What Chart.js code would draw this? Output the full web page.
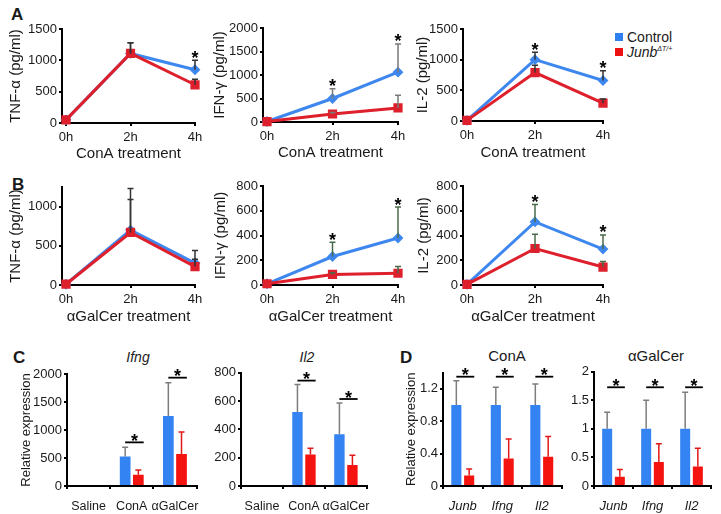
<!DOCTYPE html>
<html>
<head>
<meta charset="utf-8">
<script src="https://cdn.jsdelivr.net/npm/chart.js@4.4.1/dist/chart.umd.min.js"></script>
<style>
  body { margin: 0; background: #fff; }
  #fig { position: relative; width: 721px; height: 514px; overflow: hidden;
         font-family: 'Liberation Sans', Arial, sans-serif; color: #1a1a1a; }
  #fig canvas { position: absolute; }
  .panel { position: absolute; font-weight: bold; font-size: 17px; line-height: 1; }
  .ttl { position: absolute; line-height: 1; white-space: nowrap; transform: translateX(-50%); }
  .sw { position: absolute; width: 8px; height: 8px; }
  .leg { position: absolute; font-size: 14px; line-height: 1; white-space: nowrap; }
  .leg sup { font-size: 7px; font-style: italic; vertical-align: 6px; }
</style>
</head>
<body>
<div id="fig">
  <div class="panel" style="left:11px;top:6px">A</div>
  <div class="panel" style="left:12px;top:176px">B</div>
  <div class="panel" style="left:13px;top:349px">C</div>
  <div class="panel" style="left:400px;top:349px">D</div>

  <div class="ttl" style="left:138px;top:350px;font-size:14px;font-style:italic">Ifng</div>
  <div class="ttl" style="left:307px;top:350px;font-size:14px;font-style:italic">Il2</div>
  <div class="ttl" style="left:507px;top:348px;font-size:15px">ConA</div>
  <div class="ttl" style="left:656px;top:348px;font-size:15px">αGalCer</div>

  <div class="sw" style="left:615px;top:33px;background:#2f7ff0"></div>
  <div class="leg" style="left:627px;top:30px">Control</div>
  <div class="sw" style="left:615px;top:48px;background:#ee1111"></div>
  <div class="leg" style="left:627px;top:45px"><i>Junb</i><sup>ΔT/+</sup></div>
</div>
<script>
// time points (h)
const hours = [0, 2, 4];

// A: ConA treatment
const tnfConaCtrl = [50, 1110, 850];
const tnfConaCtrlErr = [0, 170, 150];
const tnfConaJunb = [50, 1110, 610];
const tnfConaJunbErr = [0, 170, 90];
const tnfConaStars = [false, false, true];
const tnfConaTicks = [0, 500, 1000, 1500];

const ifnConaCtrl = [10, 500, 1060];
const ifnConaCtrlErr = [0, 210, 600];
const ifnConaJunb = [10, 170, 300];
const ifnConaJunbErr = [0, 30, 270];
const ifnConaStars = [false, true, true];
const ifnConaTicks = [0, 500, 1000, 1500, 2000];

const il2ConaCtrl = [10, 1000, 660];
const il2ConaCtrlErr = [0, 120, 160];
const il2ConaJunb = [10, 790, 290];
const il2ConaJunbErr = [0, 120, 70];
const il2ConaStars = [false, true, true];
const il2ConaTicks = [0, 500, 1000, 1500];

// B: aGalCer treatment
const tnfGalCtrl = [10, 700, 280];
const tnfGalCtrlErr = [0, 530, 160];
const tnfGalJunb = [10, 670, 235];
const tnfGalJunbErr = [0, 420, 95];
const tnfGalStars = [false, false, false];
const tnfGalTicks = [0, 500, 1000];

const ifnGalCtrl = [10, 230, 380];
const ifnGalCtrlErr = [0, 115, 250];
const ifnGalJunb = [10, 85, 95];
const ifnGalJunbErr = [0, 15, 55];
const ifnGalStars = [false, true, true];
const ifnGalTicks = [0, 200, 400, 600, 800];

const il2GalCtrl = [5, 510, 290];
const il2GalCtrlErr = [0, 140, 115];
const il2GalJunb = [5, 295, 145];
const il2GalJunbErr = [0, 115, 45];
const il2GalStars = [false, true, true];
const il2GalTicks = [0, 200, 400, 600, 800];

// C: relative expression by treatment
const treatments = ['Saline', 'ConA', 'αGalCer'];
const ifngCtrl = [0, 525, 1250];
const ifngCtrlErr = [0, 165, 595];
const ifngJunb = [0, 200, 572];
const ifngJunbErr = [0, 85, 393];
const ifngSig = [false, true, true];
const ifngTicks = [0, 500, 1000, 1500, 2000];

const il2Ctrl = [0, 523, 366];
const il2CtrlErr = [0, 193, 220];
const il2Junb = [0, 222, 148];
const il2JunbErr = [0, 44, 70];
const il2Sig = [false, true, true];
const il2Ticks = [0, 200, 400, 600, 800];

// D: relative expression by gene
const genes = ['Junb', 'Ifng', 'Il2'];
const conaCtrl = [1.0, 1.0, 1.0];
const conaCtrlErr = [0.30, 0.22, 0.26];
const conaJunb = [0.13, 0.34, 0.36];
const conaJunbErr = [0.08, 0.24, 0.25];
const conaSig = [true, true, true];
const conaTicks = [0, 0.4, 0.8, 1.2];

const galCtrl = [1.0, 1.0, 1.0];
const galCtrlErr = [0.29, 0.50, 0.64];
const galJunb = [0.16, 0.42, 0.34];
const galJunbErr = [0.13, 0.32, 0.32];
const galSig = [true, true, true];
const galTicks = [0, 0.5, 1, 1.5, 2];

const lineBlue = '#3d87ee', lineRed = '#de1f2c';
const barBlue = '#3483f2', barRed = '#f5130f';
const FONT = "'Liberation Sans', Arial, sans-serif";

Chart.defaults.font.family = FONT;
Chart.defaults.color = '#1a1a1a';

// draws upward error bars from each point / bar top
const errorBars = {
    id: 'errorBars',
    afterDatasetsDraw(chart) {
        const ctx = chart.ctx, ys = chart.scales.y;
        chart.data.datasets.forEach((ds, i) => {
            if (!ds.errors) return;
            const meta = chart.getDatasetMeta(i);
            meta.data.forEach((el, j) => {
                const e = ds.errors[j];
                if (!e) return;
                const v = meta.controller.getParsed(j).y;
                const yTop = ys.getPixelForValue(v + e);
                ctx.save();
                ctx.strokeStyle = ds.errColor;
                ctx.lineWidth = 1.5;
                ctx.beginPath();
                ctx.moveTo(el.x, el.y);
                ctx.lineTo(el.x, yTop);
                ctx.moveTo(el.x - 3, yTop);
                ctx.lineTo(el.x + 3, yTop);
                ctx.stroke();
                ctx.restore();
            });
        });
    }
};

function star(ctx, x, cy) {
    ctx.fillText('*', x, cy + 10.5);
}

// asterisks (and bars for the bar charts)
const sigMarks = {
    id: 'sigMarks',
    afterDatasetsDraw(chart, args, o) {
        if (!o.sig) return;
        const ctx = chart.ctx, ys = chart.scales.y;
        const tops = o.sig.map((s, j) => Math.min(...chart.data.datasets.map((ds, i) => {
            const v = chart.getDatasetMeta(i).controller.getParsed(j).y;
            return ys.getPixelForValue(v + (ds.errors[j] || 0));
        })));
        const common = Math.min(...tops.filter((t, j) => o.sig[j]));
        ctx.save();
        ctx.fillStyle = '#000';
        ctx.strokeStyle = '#000';
        ctx.lineWidth = 1.8;
        ctx.font = 'bold 18px ' + FONT;
        ctx.textAlign = 'center';
        o.sig.forEach((s, j) => {
            if (!s) return;
            const a = chart.getDatasetMeta(0).data[j];
            const r = chart.getDatasetMeta(1).data[j];
            const base = (o.uniform ? common : tops[j]) - o.gap;
            if (o.bar) {
                const x1 = a.x, x2 = r.x + r.width / 2;
                ctx.beginPath();
                ctx.moveTo(x1, base);
                ctx.lineTo(x2, base);
                ctx.stroke();
                star(ctx, (x1 + x2) / 2, base - 6);
            } else {
                star(ctx, a.x, base);
            }
        });
        ctx.restore();
    }
};

Chart.register(errorBars, sigMarks);

const fig = document.getElementById('fig');

// place a canvas so that the plot area lands on the given box
function frame(b) {
    const left = Math.round(b.titleX != null ? b.titleX - b.titleOff : b.ax - b.yW);
    const top = Math.round(b.top - (b.padTop || 26));
    const width = Math.round(b.right - left + (b.padRight || 12));
    const height = Math.round(b.bot - top + b.xH);
    const c = document.createElement('canvas');
    c.width = width;
    c.height = height;
    c.style.left = left + 'px';
    c.style.top = top + 'px';
    fig.appendChild(c);
    return {
        ctx: c.getContext('2d'),
        yW: b.ax - left,
        padTop: b.top - top,
        padRight: width - (b.right - left),
        xH: height - (b.bot - top)
    };
}

function axisBase() {
    return {
        grid: { drawOnChartArea: false, tickLength: 3, color: '#000', lineWidth: 2 },
        border: { color: '#000', width: 2 }
    };
}

function lineChart(b, d) {
    const f = frame(b);
    const xmin = -4 * 4 / (b.right - b.ax - 4);
    const pts = arr => hours.map((h, i) => ({ x: h, y: arr[i] }));
    new Chart(f.ctx, {
        type: 'line',
        data: {
            datasets: [{
                data: pts(d.ctrl), errors: d.ctrlErr, errColor: b.errColor,
                borderColor: lineBlue, backgroundColor: lineBlue,
                pointStyle: 'rectRot', pointRadius: 3.3, borderWidth: 3,
                order: 1, clip: false, tension: 0
            }, {
                data: pts(d.junb), errors: d.junbErr, errColor: b.errColor,
                borderColor: lineRed, backgroundColor: lineRed,
                pointStyle: 'rect', pointRadius: 4.4, borderWidth: 3,
                order: 0, clip: false, tension: 0
            }]
        },
        options: {
            responsive: false, animation: false, events: [],
            layout: { padding: { top: f.padTop, right: f.padRight, left: 0, bottom: 0 } },
            plugins: {
                legend: { display: false }, tooltip: { enabled: false },
                sigMarks: { sig: d.stars, gap: 7 }
            },
            scales: {
                x: Object.assign(axisBase(), {
                    type: 'linear', min: xmin, max: 4,
                    afterBuildTicks: s => { s.ticks = hours.map(v => ({ value: v })); },
                    afterFit: s => { s.height = f.xH; },
                    ticks: { callback: v => v + 'h', padding: 4, font: { size: 13 }, maxRotation: 0, autoSkip: false },
                    title: { display: true, text: b.xTitle, font: { size: 15 }, padding: { top: 0, bottom: 4 } }
                }),
                y: Object.assign(axisBase(), {
                    min: 0, max: b.yMax,
                    afterBuildTicks: s => { s.ticks = d.ticks.map(v => ({ value: v })); },
                    afterFit: s => { s.width = f.yW; },
                    ticks: { callback: v => String(v), padding: 2, font: { size: 13 } },
                    title: { display: true, text: b.yTitle, font: { size: 15 }, padding: { top: 4, bottom: 0 } }
                })
            }
        }
    });
}

function barChart(b, d) {
    const f = frame(b);
    new Chart(f.ctx, {
        type: 'bar',
        data: {
            labels: d.cats,
            datasets: [{
                data: d.ctrl, errors: d.ctrlErr, errColor: '#7d7d7d',
                backgroundColor: barBlue, categoryPercentage: b.cat, barPercentage: b.bar
            }, {
                data: d.junb, errors: d.junbErr, errColor: '#e01818',
                backgroundColor: barRed, categoryPercentage: b.cat, barPercentage: b.bar
            }]
        },
        options: {
            responsive: false, animation: false, events: [],
            layout: { padding: { top: f.padTop, right: f.padRight, left: 0, bottom: 0 } },
            plugins: {
                legend: { display: false }, tooltip: { enabled: false },
                sigMarks: { sig: d.sig, gap: b.gap, bar: true, uniform: b.uniform }
            },
            scales: {
                x: Object.assign(axisBase(), {
                    afterFit: s => { s.height = f.xH; },
                    ticks: { padding: 10, font: { size: b.italic ? 13 : 12.5, style: b.italic ? 'italic' : 'normal' }, maxRotation: 0, autoSkip: false }
                }),
                y: Object.assign(axisBase(), {
                    min: 0, max: b.yMax,
                    afterBuildTicks: s => { s.ticks = d.ticks.map(v => ({ value: v })); },
                    afterFit: s => { s.width = f.yW; },
                    ticks: { callback: v => String(v), padding: 2, font: { size: 13 } },
                    title: { display: !!b.yTitle, text: b.yTitle || '', font: { size: 13 }, padding: { top: 4, bottom: 0 } }
                })
            }
        }
    });
}

// Panel A
lineChart({ ax: 62, right: 195, top: 29, bot: 123, titleX: 16, titleOff: 13, xH: 44, yMax: 1500,
            yTitle: 'TNF-α (pg/ml)', xTitle: 'ConA treatment', errColor: '#333' },
          { ctrl: tnfConaCtrl, ctrlErr: tnfConaCtrlErr, junb: tnfConaJunb, junbErr: tnfConaJunbErr, stars: tnfConaStars, ticks: tnfConaTicks });
lineChart({ ax: 263, right: 398, top: 28, bot: 122, titleX: 220, titleOff: 13, xH: 44, yMax: 2000,
            yTitle: 'IFN-γ (pg/ml)', xTitle: 'ConA treatment', errColor: '#7a7a7a' },
          { ctrl: ifnConaCtrl, ctrlErr: ifnConaCtrlErr, junb: ifnConaJunb, junbErr: ifnConaJunbErr, stars: ifnConaStars, ticks: ifnConaTicks });
lineChart({ ax: 463, right: 603, top: 29, bot: 121, titleX: 423, titleOff: 13, xH: 45, yMax: 1500,
            yTitle: 'IL-2 (pg/ml)', xTitle: 'ConA treatment', errColor: '#333' },
          { ctrl: il2ConaCtrl, ctrlErr: il2ConaCtrlErr, junb: il2ConaJunb, junbErr: il2ConaJunbErr, stars: il2ConaStars, ticks: il2ConaTicks });

// Panel B
lineChart({ ax: 62, right: 195, top: 187, bot: 285, titleX: 16, titleOff: 13, xH: 45, yMax: 1250,
            yTitle: 'TNF-α (pg/ml)', xTitle: 'αGalCer treatment', errColor: '#333' },
          { ctrl: tnfGalCtrl, ctrlErr: tnfGalCtrlErr, junb: tnfGalJunb, junbErr: tnfGalJunbErr, stars: tnfGalStars, ticks: tnfGalTicks });
lineChart({ ax: 263, right: 398, top: 186, bot: 285, titleX: 221, titleOff: 13, xH: 45, yMax: 800,
            yTitle: 'IFN-γ (pg/ml)', xTitle: 'αGalCer treatment', errColor: '#4a6b4a' },
          { ctrl: ifnGalCtrl, ctrlErr: ifnGalCtrlErr, junb: ifnGalJunb, junbErr: ifnGalJunbErr, stars: ifnGalStars, ticks: ifnGalTicks });
lineChart({ ax: 463, right: 603, top: 186, bot: 285, titleX: 424, titleOff: 13, xH: 45, yMax: 800,
            yTitle: 'IL-2 (pg/ml)', xTitle: 'αGalCer treatment', errColor: '#4a6b4a' },
          { ctrl: il2GalCtrl, ctrlErr: il2GalCtrlErr, junb: il2GalJunb, junbErr: il2GalJunbErr, stars: il2GalStars, ticks: il2GalTicks });

// Panel C
barChart({ ax: 67, right: 200, top: 374, bot: 486, titleX: 26.7, titleOff: 11.8, xH: 28, padTop: 30, padRight: 10,
           yMax: 2000, yTitle: 'Relative expression', cat: 0.61, bar: 0.815, gap: 5 },
         { cats: treatments, ctrl: ifngCtrl, ctrlErr: ifngCtrlErr, junb: ifngJunb, junbErr: ifngJunbErr, sig: ifngSig, ticks: ifngTicks });
barChart({ ax: 241, right: 371, top: 372.7, bot: 486, yW: 36, xH: 28, padTop: 30, padRight: 10,
           yMax: 800, cat: 0.62, bar: 0.8, gap: 4 },
         { cats: treatments, ctrl: il2Ctrl, ctrlErr: il2CtrlErr, junb: il2Junb, junbErr: il2JunbErr, sig: il2Sig, ticks: il2Ticks });

// Panel D
barChart({ ax: 443, right: 561.5, top: 372.6, bot: 486, titleX: 411.7, titleOff: 11.8, xH: 28, padTop: 20, padRight: 8,
           yMax: 1.4, yTitle: 'Relative expression', cat: 0.65, bar: 0.79, gap: 4, uniform: true, italic: true },
         { cats: genes, ctrl: conaCtrl, ctrlErr: conaCtrlErr, junb: conaJunb, junbErr: conaJunbErr, sig: conaSig, ticks: conaTicks });
barChart({ ax: 594, right: 711, top: 371.7, bot: 486, yW: 30, xH: 28, padTop: 20, padRight: 8,
           yMax: 2, cat: 0.65, bar: 0.79, gap: 5, uniform: true, italic: true },
         { cats: genes, ctrl: galCtrl, ctrlErr: galCtrlErr, junb: galJunb, junbErr: galJunbErr, sig: galSig, ticks: galTicks });
</script>
</body>
</html>
